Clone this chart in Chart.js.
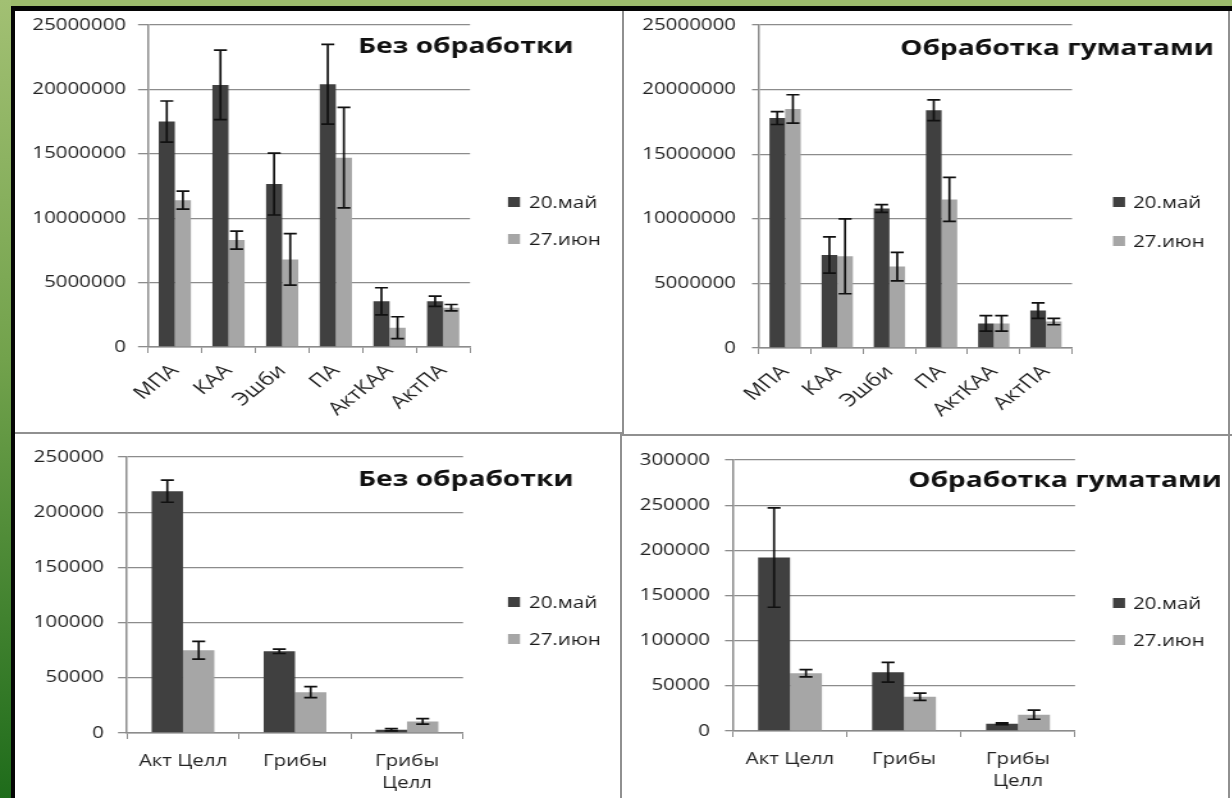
<!DOCTYPE html>
<html>
<head>
<meta charset="utf-8">
<script src="https://cdn.jsdelivr.net/npm/chart.js@4.4.1/dist/chart.umd.min.js"></script>
<style>
  html, body { margin: 0; padding: 0; width: 1232px; height: 798px; overflow: hidden; }
  body { position: relative; background: #9dbc6d; }
  #side { position: absolute; left: 0; top: 0; width: 11px; height: 798px;
          background: linear-gradient(#a2c073, #72a24c 45%, #1f6c1b); }
  #frame { position: absolute; left: 11px; top: 6px; right: 0; bottom: 0; background: #050505; }
  #sheet { position: absolute; left: 15px; top: 11px; right: 0; bottom: 0; background: #fff; }
  .rule { position: absolute; background: #909090; }
  canvas { position: absolute; left: 0; top: 0; transform: scaleX(1.28); transform-origin: 0 0; }
</style>
</head>
<body>
<div id="side"></div>
<div id="frame"></div>
<div id="sheet"></div>
<div class="rule" style="left:622px;top:11px;width:2px;height:423px"></div>
<div class="rule" style="left:620px;top:433px;width:2px;height:365px"></div>
<div class="rule" style="left:15px;top:432px;width:607px;height:2px"></div>
<div class="rule" style="left:622px;top:434px;width:610px;height:2px"></div>
<div class="rule" style="left:1228px;top:11px;width:2px;height:787px"></div>
<canvas id="c1"></canvas>
<canvas id="c2"></canvas>
<canvas id="c3"></canvas>
<canvas id="c4"></canvas>
<script>
// Categories and series
const categoriesCultures = ['МПА', 'КАА', 'Эшби', 'ПА', 'АктКАА', 'АктПА'];
const categoriesFungi = ['Акт Целл', 'Грибы', ['Грибы', 'Целл']];
const seriesLabels = ['20.май', '27.июн'];
const panelTitles = ['Без обработки', 'Обработка гуматами'];

// Without treatment, cultures
const controlMay = [17500000, 20350000, 12650000, 20400000, 3550000, 3550000];
const controlMayErr = [1600000, 2700000, 2400000, 3100000, 1050000, 400000];
const controlJun = [11400000, 8300000, 6800000, 14700000, 1500000, 3050000];
const controlJunErr = [700000, 700000, 2000000, 3900000, 850000, 250000];

// Humate treatment, cultures
const humateMay = [17800000, 7200000, 10800000, 18400000, 1900000, 2900000];
const humateMayErr = [500000, 1400000, 300000, 800000, 600000, 600000];
const humateJun = [18500000, 7100000, 6300000, 11500000, 1900000, 2050000];
const humateJunErr = [1100000, 2900000, 1100000, 1700000, 600000, 250000];

// Without treatment, cellulolytics and fungi
const controlFungiMay = [219000, 74000, 3000];
const controlFungiMayErr = [10000, 2000, 1000];
const controlFungiJun = [75000, 37000, 10500];
const controlFungiJunErr = [8000, 5000, 2500];

// Humate treatment, cellulolytics and fungi
const humateFungiMay = [192000, 65000, 8000];
const humateFungiMayErr = [55000, 11000, 1000];
const humateFungiJun = [64000, 38000, 18000];
const humateFungiJunErr = [4000, 4000, 5000];

// Canvas geometry: drawn narrow, widened by CSS scaleX
const S = 1.28, W = 963, H = 798;
const L = v => v / S;
const colorMay = '#404040', colorJun = '#a6a6a6', gridColor = '#8c8c8c';
const FONT = '"Open Sans", "Noto Sans", sans-serif';

const errorBars = {
  id: 'errorBars',
  afterDatasetsDraw(chart) {
    const ctx = chart.ctx, y = chart.scales.y, cap = L(6.5);
    chart.data.datasets.forEach((ds, i) => {
      chart.getDatasetMeta(i).data.forEach((bar, j) => {
        const v = ds.data[j], e = ds.errors[j];
        const top = y.getPixelForValue(v + e), bot = y.getPixelForValue(Math.max(v - e, 0));
        ctx.save();
        ctx.strokeStyle = '#111';
        ctx.lineWidth = 1.7;
        ctx.beginPath();
        ctx.moveTo(bar.x, top); ctx.lineTo(bar.x, bot);
        ctx.moveTo(bar.x - cap, top); ctx.lineTo(bar.x + cap, top);
        ctx.moveTo(bar.x - cap, bot); ctx.lineTo(bar.x + cap, bot);
        ctx.stroke();
        ctx.restore();
      });
    });
  }
};

// Panel heading and series key
const panelDecor = {
  id: 'panelDecor',
  afterDraw(chart, args, o) {
    const ctx = chart.ctx;
    ctx.save();
    ctx.textAlign = 'left';
    ctx.textBaseline = 'middle';
    ctx.fillStyle = '#111';
    ctx.font = 'bold 22px ' + FONT;
    ctx.fillText(o.title, L(o.titleX), o.titleY);
    ctx.font = '16px ' + FONT;
    chart.data.datasets.forEach((ds, i) => {
      const y = o.keyY[i];
      ctx.fillStyle = ds.backgroundColor;
      ctx.fillRect(L(o.boxX), y - 5, L(12), 10);
      ctx.fillStyle = '#1a1a1a';
      ctx.fillText(ds.label, L(o.textX), y + 1);
    });
    ctx.restore();
  }
};

function buildPanel(id, spec) {
  const canvas = document.getElementById(id);
  canvas.width = W;
  canvas.height = H;
  const yFont = { family: FONT, size: 16, lineHeight: 1.4 };
  const xFont = { family: FONT, size: spec.xFontSize, lineHeight: 1.4 };
  return new Chart(canvas, {
    type: 'bar',
    data: {
      labels: spec.labels,
      datasets: [
        { label: seriesLabels[0], data: spec.may, errors: spec.mayErr, backgroundColor: colorMay },
        { label: seriesLabels[1], data: spec.jun, errors: spec.junErr, backgroundColor: colorJun }
      ]
    },
    options: {
      responsive: false,
      animation: false,
      devicePixelRatio: 1,
      events: [],
      datasets: { bar: { categoryPercentage: spec.catPct, barPercentage: 1 } },
      layout: {
        padding: {
          left: 0,
          top: spec.area.top,
          right: W - L(spec.area.right),
          bottom: H - spec.area.bottom - spec.xHeight
        }
      },
      plugins: {
        legend: { display: false },
        tooltip: { enabled: false },
        panelDecor: spec.decor
      },
      scales: {
        x: {
          grid: { drawOnChartArea: false, drawTicks: true, tickLength: 6, color: gridColor, offset: true },
          border: { color: gridColor, width: 1.5 },
          ticks: {
            font: xFont, color: '#222', autoSkip: false,
            minRotation: spec.rot, maxRotation: spec.rot, padding: spec.xPad
          },
          afterFit: s => { s.height = spec.xHeight; }
        },
        y: {
          min: 0,
          max: spec.yMax,
          ticks: {
            stepSize: spec.yStep, font: yFont, color: '#222',
            padding: L(spec.yGap), callback: v => String(v)
          },
          grid: { color: gridColor, lineWidth: 1.3, tickLength: L(spec.yTick) },
          border: { color: gridColor, width: 1.5 },
          afterFit: s => { s.width = L(spec.area.left); }
        }
      }
    },
    plugins: [errorBars, panelDecor]
  });
}

buildPanel('c1', {
  labels: categoriesCultures, may: controlMay, mayErr: controlMayErr, jun: controlJun, junErr: controlJunErr,
  yMax: 25000000, yStep: 5000000, catPct: 0.6, rot: 45, xPad: 6, xHeight: 90, xFontSize: 18,
  area: { left: 148, right: 470, top: 25, bottom: 347 }, yGap: 12, yTick: 10,
  decor: { title: panelTitles[0], titleX: 358, titleY: 47, boxX: 508, textX: 529, keyY: [202, 239] }
});
buildPanel('c2', {
  labels: categoriesCultures, may: humateMay, mayErr: humateMayErr, jun: humateJun, junErr: humateJunErr,
  yMax: 25000000, yStep: 5000000, catPct: 0.6, rot: 45, xPad: 6, xHeight: 90, xFontSize: 18,
  area: { left: 759, right: 1072, top: 25, bottom: 348 }, yGap: 16, yTick: 7,
  decor: { title: panelTitles[1], titleX: 900, titleY: 49, boxX: 1113, textX: 1133, keyY: [202, 241] }
});
buildPanel('c3', {
  labels: categoriesFungi, may: controlFungiMay, mayErr: controlFungiMayErr, jun: controlFungiJun, junErr: controlFungiJunErr,
  yMax: 250000, yStep: 50000, catPct: 0.56, rot: 0, xPad: 11, xHeight: 60, xFontSize: 16,
  area: { left: 127, right: 463, top: 457, bottom: 733 }, yGap: 14, yTick: 9,
  decor: { title: panelTitles[0], titleX: 358, titleY: 480, boxX: 508, textX: 529, keyY: [602, 639] }
});
buildPanel('c4', {
  labels: categoriesFungi, may: humateFungiMay, mayErr: humateFungiMayErr, jun: humateFungiJun, junErr: humateFungiJunErr,
  yMax: 300000, yStep: 50000, catPct: 0.56, rot: 0, xPad: 11, xHeight: 60, xFontSize: 16,
  area: { left: 733, right: 1075, top: 460, bottom: 731 }, yGap: 15, yTick: 8,
  decor: { title: panelTitles[1], titleX: 908, titleY: 481, boxX: 1113, textX: 1133, keyY: [603, 640] }
});
</script>
</body>
</html>
